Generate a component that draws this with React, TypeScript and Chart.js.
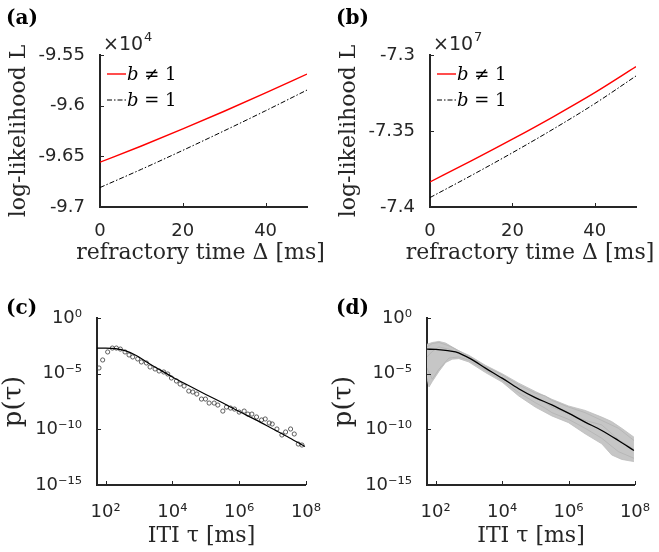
import React, { useEffect, useRef } from "react";
import { Chart, registerables } from "chart.js";
Chart.register(...registerables);

const AXIS = "#262626";
const RED = "#ff0000";
const TICK_FONT = "'DejaVu Sans', sans-serif";
const SERIF = "'DejaVu Serif', 'Liberation Serif', serif";

// ---------- panels (a), (b): log-likelihood vs refractory time ----------
const refractoryMs = [0, 10, 20, 30, 40, 50];
const xTicksTop = [0, 20, 40];
const xTitleTop = "refractory time Δ [ms]";
// panel (a), values in units of 1e4
const llA_bFree = [-9.6558, -9.6398, -9.6230, -9.6055, -9.5874, -9.5688];
const llA_bOne = [-9.6808, -9.6628, -9.6441, -9.6248, -9.6050, -9.5846];
const yTicksA = [-9.7, -9.65, -9.6, -9.55];
// panel (b), values in units of 1e7
const llB_bFree = [-7.3835, -7.3697, -7.3554, -7.3405, -7.3248, -7.3077];
const llB_bOne = [-7.3938, -7.3793, -7.3643, -7.3486, -7.3320, -7.3138];
const yTicksB = [-7.4, -7.35, -7.3];

// ---------- panels (c), (d): ITI distributions (log10 values) ----------
const logXTicks = [1e2, 1e4, 1e6, 1e8];
const logYTicks = [1e-15, 1e-10, 1e-5, 1];

const circleLogTauC = [1.80, 1.91, 2.06, 2.20, 2.32, 2.44, 2.58, 2.70, 2.81, 2.96, 3.07, 3.22, 3.33, 3.48, 3.60, 3.74, 3.86, 3.97, 4.12, 4.23, 4.35, 4.49, 4.61, 4.73, 4.87, 4.99, 5.10, 5.25, 5.36, 5.51, 5.62, 5.74, 5.86, 6.00, 6.15, 6.26, 6.38, 6.52, 6.67, 6.78, 6.90, 6.99, 7.13, 7.28, 7.39, 7.54, 7.65, 7.77, 7.88];
const circleLogPC = [-4.49, -3.77, -3.05, -2.70, -2.70, -2.79, -3.05, -3.32, -3.50, -3.68, -3.95, -4.04, -4.40, -4.58, -4.76, -4.85, -5.03, -5.39, -5.66, -5.93, -6.11, -6.56, -6.65, -6.83, -7.28, -7.28, -7.64, -7.64, -7.82, -8.36, -8.00, -8.09, -8.18, -8.45, -8.36, -8.63, -8.63, -8.89, -9.16, -9.07, -9.43, -9.52, -9.97, -10.51, -10.24, -9.97, -10.42, -11.32, -11.41];

const fitLogTauC = [1.74, 2.0, 2.3, 2.6, 2.9, 3.2, 3.5, 3.8, 4.0, 4.44, 5.0, 5.5, 6.0, 6.5, 7.0, 7.5, 7.97];
const fitLogPC = [-2.70, -2.70, -2.75, -2.95, -3.35, -3.9, -4.45, -4.95, -5.3, -6.0, -6.87, -7.62, -8.4, -9.15, -9.95, -10.75, -11.55];

const fitLogTauD = [1.74, 2.0, 2.3, 2.6, 3.07, 3.5, 4.0, 4.5, 5.0, 5.5, 6.0, 6.5, 7.0, 7.5, 7.97];
const fitLogPD = [-2.8, -2.82, -2.9, -3.05, -3.7, -4.5, -5.4, -6.35, -7.15, -7.8, -8.55, -9.35, -10.1, -11.0, -11.9];

const bandLogTauD = [1.74, 1.8, 1.9, 2.1, 2.3, 2.5, 2.7, 3.0, 3.5, 4.0, 4.5, 5.0, 5.5, 6.0, 6.5, 7.0, 7.3, 7.6, 7.97];
const bandUpperLogPD = [-2.35, -2.3, -2.2, -2.1, -2.25, -2.6, -2.95, -3.35, -4.25, -5.0, -5.85, -6.6, -7.3, -7.9, -8.3, -8.9, -9.3, -9.9, -10.7];
const bandLowerLogPD = [-5.4, -6.2, -5.7, -4.8, -4.0, -3.7, -3.65, -3.95, -4.9, -5.75, -7.0, -8.0, -8.8, -9.4, -10.4, -11.3, -12.3, -12.7, -12.9];

const traceLogTauD = [1.74, 1.9, 2.1, 2.4, 2.7, 3.0, 3.5, 4.0, 4.5, 5.0, 5.3, 5.5, 6.0, 6.5, 7.0, 7.5, 7.97];
const trace1LogPD = [-2.6, -2.3, -2.2, -2.5, -2.95, -3.45, -4.35, -5.1, -6.0, -6.75, -7.0, -7.4, -8.0, -8.5, -9.2, -9.9, -11.0];
const trace2LogPD = [-4.5, -5.5, -4.6, -3.6, -3.5, -3.8, -4.7, -5.6, -6.7, -7.6, -8.1, -8.5, -9.1, -9.9, -10.8, -12.0, -12.6];
const trace3LogPD = [-3.5, -3.0, -2.6, -2.8, -3.2, -3.6, -4.6, -5.4, -6.4, -7.2, -7.6, -8.0, -8.6, -9.2, -9.6, -10.9, -11.8];

const SUP: Record<string, string> = { "0": "⁰", "1": "¹", "2": "²", "3": "³", "4": "⁴", "5": "⁵", "6": "⁶", "7": "⁷", "8": "⁸", "9": "⁹", "-": "⁻" };
const powLabel = (v: number) => "10" + String(Math.round(Math.log10(v))).split("").map((c) => SUP[c] || c).join("");
const logPts = (xs: number[], ys: number[]) => xs.map((x, i) => ({ x: Math.pow(10, x), y: Math.pow(10, ys[i]) }));

const inwardTicks = {
  id: "inwardTicks",
  afterDatasetsDraw(chart: any) {
    const { ctx, chartArea: a } = chart;
    const xs = chart.scales.x, ys = chart.scales.y;
    ctx.save();
    ctx.strokeStyle = AXIS;
    ctx.lineWidth = 1;
    ctx.beginPath();
    xs.ticks.forEach((t: any) => {
      const px = Math.round(xs.getPixelForValue(t.value)) + 0.5;
      ctx.moveTo(px, a.bottom);
      ctx.lineTo(px, a.bottom - 4);
    });
    ys.ticks.forEach((t: any) => {
      const py = Math.round(ys.getPixelForValue(t.value)) + 0.5;
      ctx.moveTo(a.left, py);
      ctx.lineTo(a.left + 4, py);
    });
    ctx.stroke();
    ctx.restore();
  },
};

const overlay = {
  id: "overlay",
  afterDraw(chart: any, _args: any, opts: any) {
    const { ctx, chartArea: a } = chart;
    ctx.save();
    ctx.fillStyle = "#000";
    ctx.font = `bold 20px ${SERIF}`;
    ctx.textBaseline = "alphabetic";
    ctx.textAlign = "left";
    ctx.fillText(opts.label, 6, opts.labelY);
    if (opts.xTitle) {
      ctx.fillStyle = AXIS;
      ctx.font = `22px ${SERIF}`;
      ctx.textAlign = "center";
      ctx.fillText(opts.xTitle, (a.left + a.right) / 2 - 3, opts.xTitleY);
      ctx.textAlign = "left";
    }
    if (opts.exp) {
      ctx.fillStyle = AXIS;
      ctx.font = `19px ${TICK_FONT}`;
      ctx.fillText("×10", a.left + 3, a.top - 5);
      const w = ctx.measureText("×10").width;
      ctx.font = `13px ${TICK_FONT}`;
      ctx.fillText(opts.exp, a.left + 4 + w, a.top - 14);
    }
    if (opts.legend) {
      const ds = chart.data.datasets;
      const rows = [a.top + 19, a.top + 45];
      rows.forEach((y: number, i: number) => {
        const d = ds[i];
        ctx.strokeStyle = d.borderColor;
        ctx.lineWidth = d.borderWidth;
        ctx.setLineDash(d.borderDash || []);
        ctx.beginPath();
        ctx.moveTo(a.left + 7, y);
        ctx.lineTo(a.left + 26, y);
        ctx.stroke();
        ctx.setLineDash([]);
        ctx.fillStyle = "#000";
        const lbl: string = d.label;
        ctx.font = `italic 18px ${SERIF}`;
        const tx = a.left + 27;
        ctx.fillText(lbl.charAt(0), tx, y + 6);
        const bw = ctx.measureText(lbl.charAt(0)).width;
        ctx.font = `18px ${SERIF}`;
        ctx.fillText(lbl.slice(1), tx + bw, y + 6);
      });
    }
    ctx.restore();
  },
};

type Area = { l: number; r: number; t: number; b: number };

function tickFont() {
  return { family: TICK_FONT, size: 18 };
}

function topConfig(W: number, H: number, area: Area, free: number[], one: number[], yTicks: number[], label: string, exp: string) {
  return {
    type: "line",
    data: {
      datasets: [
        { label: "b ≠ 1", data: refractoryMs.map((x, i) => ({ x, y: free[i] })), borderColor: RED, borderWidth: 1.4, pointRadius: 0, cubicInterpolationMode: "monotone", order: 0 },
        { label: "b = 1", data: refractoryMs.map((x, i) => ({ x, y: one[i] })), borderColor: "#000", borderWidth: 1, borderDash: [5, 2, 1.5, 2], pointRadius: 0, cubicInterpolationMode: "monotone", order: 1 },
      ],
    },
    options: {
      responsive: false,
      animation: false,
      devicePixelRatio: 1,
      layout: { padding: { left: 0, top: area.t, right: W - area.r, bottom: 0 } },
      plugins: { legend: { display: false }, tooltip: { enabled: false }, overlay: { label, labelY: 24, exp, legend: true, xTitle: xTitleTop, xTitleY: 259 } },
      scales: {
        x: {
          type: "linear", min: 0, max: 50,
          grid: { display: false },
          border: { display: true, color: AXIS, width: 2 },
          ticks: { color: AXIS, font: tickFont(), padding: 6, maxRotation: 0, autoSkip: false },
          afterBuildTicks: (s: any) => { s.ticks = xTicksTop.map((v) => ({ value: v })); },
          afterFit: (s: any) => { s.height = H - area.b; },
          title: { display: false },
        },
        y: {
          type: "linear", min: yTicks[0], max: yTicks[yTicks.length - 1],
          grid: { display: false },
          border: { display: true, color: AXIS, width: 2 },
          ticks: { color: AXIS, font: tickFont(), padding: 7, autoSkip: false, callback: (v: any) => String(+Number(v).toFixed(2)) },
          afterBuildTicks: (s: any) => { s.ticks = yTicks.map((v) => ({ value: v })); },
          afterFit: (s: any) => { s.width = area.l; },
          title: { display: true, text: "log-likelihood L", color: AXIS, font: { family: SERIF, size: 22 }, padding: { top: 6, bottom: 0 } },
        },
      },
    },
    plugins: [inwardTicks, overlay],
  };
}

function bottomConfig(W: number, H: number, area: Area, datasets: any[], label: string) {
  return {
    type: "line",
    data: { datasets },
    options: {
      responsive: false,
      animation: false,
      devicePixelRatio: 1,
      layout: { padding: { left: 0, top: area.t, right: W - area.r, bottom: 0 } },
      plugins: { legend: { display: false }, tooltip: { enabled: false }, overlay: { label, labelY: 34, exp: "", legend: false } },
      scales: {
        x: {
          type: "logarithmic", min: 55, max: 1e8,
          grid: { display: false },
          border: { display: true, color: AXIS, width: 2 },
          ticks: { color: AXIS, font: tickFont(), padding: 9, maxRotation: 0, autoSkip: false, callback: (v: any) => powLabel(Number(v)) },
          afterBuildTicks: (s: any) => { s.ticks = logXTicks.map((v) => ({ value: v })); },
          afterFit: (s: any) => { s.height = H - area.b; },
          title: { display: true, text: "ITI τ [ms]", color: AXIS, font: { family: SERIF, size: 22 }, padding: { top: 0, bottom: 3 } },
        },
        y: {
          type: "logarithmic", min: 1e-15, max: 1,
          grid: { display: false },
          border: { display: true, color: AXIS, width: 2 },
          ticks: { color: AXIS, font: tickFont(), padding: 7, autoSkip: false, callback: (v: any) => powLabel(Number(v)) },
          afterBuildTicks: (s: any) => { s.ticks = logYTicks.map((v) => ({ value: v })); },
          afterFit: (s: any) => { s.width = area.l; },
          title: { display: true, text: "p(τ)", color: AXIS, font: { family: SERIF, size: 26, lineHeight: 1 }, padding: { top: 1, bottom: 0 } },
        },
      },
    },
    plugins: [inwardTicks, overlay],
  };
}

const GRAY = "#bdbdbd";

function Panel({ left, top, width, height, make }: any) {
  const ref = useRef<HTMLCanvasElement>(null);
  useEffect(() => {
    const chart = new Chart(ref.current as HTMLCanvasElement, make() as any);
    return () => chart.destroy();
  }, []);
  return (
    <div style={{ position: "absolute", left, top, width, height }}>
      <canvas ref={ref} width={width} height={height} style={{ width, height, display: "block" }} />
    </div>
  );
}

export default function App() {
  const areaTop: Area = { l: 100, r: 307, t: 55, b: 207 };
  const areaTopB: Area = { l: 100, r: 306, t: 55, b: 207 };
  const areaBot: Area = { l: 97, r: 312, t: 38, b: 205 };
  return (
    <div style={{ position: "absolute", left: 0, top: 0, width: 659, height: 552, background: "#fff", overflow: "hidden" }}>
      <Panel left={0} top={0} width={330} height={280}
        make={() => topConfig(330, 280, areaTop, llA_bFree, llA_bOne, yTicksA, "(a)", "4")} />
      <Panel left={330} top={0} width={329} height={280}
        make={() => topConfig(329, 280, areaTopB, llB_bFree, llB_bOne, yTicksB, "(b)", "7")} />
      <Panel left={0} top={280} width={330} height={272}
        make={() => bottomConfig(330, 272, areaBot, [
          { label: "fit", data: logPts(fitLogTauC, fitLogPC), borderColor: "#000", borderWidth: 1.2, pointRadius: 0, cubicInterpolationMode: "monotone", order: 0 },
          { label: "data", data: logPts(circleLogTauC, circleLogPC), showLine: false, pointRadius: 2.1, pointBorderWidth: 0.8, pointBorderColor: "#3a3a3a", pointBackgroundColor: "rgba(0,0,0,0)", order: 1 },
        ], "(c)")} />
      <Panel left={330} top={280} width={329} height={272}
        make={() => bottomConfig(329, 272, areaBot, [
          { label: "fit", data: logPts(fitLogTauD, fitLogPD), borderColor: "#000", borderWidth: 1.3, pointRadius: 0, cubicInterpolationMode: "monotone", order: 0 },
          { label: "upper", data: logPts(bandLogTauD, bandUpperLogPD), borderColor: GRAY, borderWidth: 0.8, pointRadius: 0, fill: false, order: 5 },
          { label: "lower", data: logPts(bandLogTauD, bandLowerLogPD), borderColor: GRAY, borderWidth: 0.8, pointRadius: 0, fill: "-1", backgroundColor: "#c6c6c6", order: 5 },
          { label: "t1", data: logPts(traceLogTauD, trace1LogPD), borderColor: "#b0b0b0", borderWidth: 0.7, pointRadius: 0, order: 3 },
          { label: "t2", data: logPts(traceLogTauD, trace2LogPD), borderColor: "#b0b0b0", borderWidth: 0.7, pointRadius: 0, order: 3 },
          { label: "t3", data: logPts(traceLogTauD, trace3LogPD), borderColor: "#b0b0b0", borderWidth: 0.7, pointRadius: 0, order: 3 },
        ], "(d)")} />
    </div>
  );
}
